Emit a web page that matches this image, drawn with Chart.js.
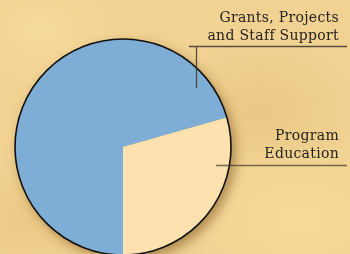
<!DOCTYPE html>
<html>
<head>
<meta charset="utf-8">
<script src="https://cdn.jsdelivr.net/npm/chart.js@4"></script>
<style>
    html, body { margin: 0; padding: 0; overflow: hidden; }
    body {
        width: 350px; height: 254px;
        background-color: #f1d292;
        background-image:
            radial-gradient(ellipse 90px 60px at 40px 30px, rgba(255, 230, 170, 0.45), transparent),
            radial-gradient(ellipse 120px 80px at 300px 220px, rgba(255, 228, 160, 0.5), transparent),
            radial-gradient(ellipse 100px 70px at 260px 110px, rgba(220, 180, 110, 0.35), transparent),
            radial-gradient(ellipse 80px 60px at 20px 220px, rgba(225, 185, 115, 0.35), transparent);
    }
    #wrap { position: relative; width: 350px; height: 254px; }
</style>
</head>
<body>
<div id="wrap"><canvas id="pieChart"></canvas></div>
<script>
const categories = ['Grants, Projects and Staff Support', 'Program Education'];
const shares = [70.6, 29.4];
const sliceColors = ['#7eadd5', '#fde1ae'];
const labelLines = [['Grants, Projects', 'and Staff Support'], ['Program', 'Education']];

// soft shadow under the pie, plus its dark rim
const pieShadow = {
    id: 'pieShadow',
    beforeDatasetsDraw(chart) {
        const arc = chart.getDatasetMeta(0).data[0];
        if (!arc) return;
        const ctx = chart.ctx;
        ctx.save();
        ctx.shadowColor = 'rgba(110, 70, 15, 0.55)';
        ctx.shadowBlur = 12;
        ctx.shadowOffsetX = 4;
        ctx.shadowOffsetY = 5;
        ctx.fillStyle = '#c9a868';
        ctx.beginPath();
        ctx.arc(arc.x, arc.y, arc.outerRadius, 0, Math.PI * 2);
        ctx.fill();
        ctx.restore();
    },
    afterDatasetsDraw(chart) {
        const arc = chart.getDatasetMeta(0).data[0];
        if (!arc) return;
        const ctx = chart.ctx;
        ctx.save();
        ctx.strokeStyle = '#111';
        ctx.lineWidth = 1.6;
        ctx.beginPath();
        ctx.arc(arc.x, arc.y, arc.outerRadius, 0, Math.PI * 2);
        ctx.stroke();
        ctx.restore();
    }
};

// callout labels on the right
const callouts = {
    id: 'callouts',
    afterDraw(chart) {
        const ctx = chart.ctx;
        ctx.save();
        ctx.fillStyle = '#24231f';
        ctx.font = '14px "DejaVu Serif"';
        ctx.letterSpacing = '0.3px';
        ctx.textAlign = 'right';
        ctx.textBaseline = 'alphabetic';
        ctx.fillText(labelLines[0][0], 339, 22);
        ctx.fillText(labelLines[0][1], 339, 40);
        ctx.fillText(labelLines[1][0], 339, 140);
        ctx.fillText(labelLines[1][1], 339, 158);

        ctx.strokeStyle = 'rgba(60, 55, 45, 0.85)';
        ctx.lineWidth = 1.3;
        ctx.beginPath();
        ctx.moveTo(189, 46.5); ctx.lineTo(347, 46.5);
        ctx.moveTo(196.5, 46.5); ctx.lineTo(196.5, 88);
        ctx.stroke();
        ctx.strokeStyle = 'rgba(60, 55, 45, 0.7)';
        ctx.beginPath();
        ctx.moveTo(216, 165.5); ctx.lineTo(347, 165.5);
        ctx.stroke();
        ctx.restore();
    }
};

new Chart(document.getElementById('pieChart').getContext('2d'), {
    type: 'pie',
    data: {
        labels: categories,
        datasets: [{
            data: shares,
            backgroundColor: sliceColors,
            borderWidth: 0,
            clip: false
        }]
    },
    options: {
        responsive: true,
        maintainAspectRatio: false,
        animation: false,
        rotation: 180,
        radius: 108,
        layout: { padding: { left: 0, right: 104, top: 40, bottom: 0 } },
        plugins: {
            legend: { display: false },
            tooltip: { enabled: false }
        }
    },
    plugins: [pieShadow, callouts]
});
</script>
</body>
</html>
